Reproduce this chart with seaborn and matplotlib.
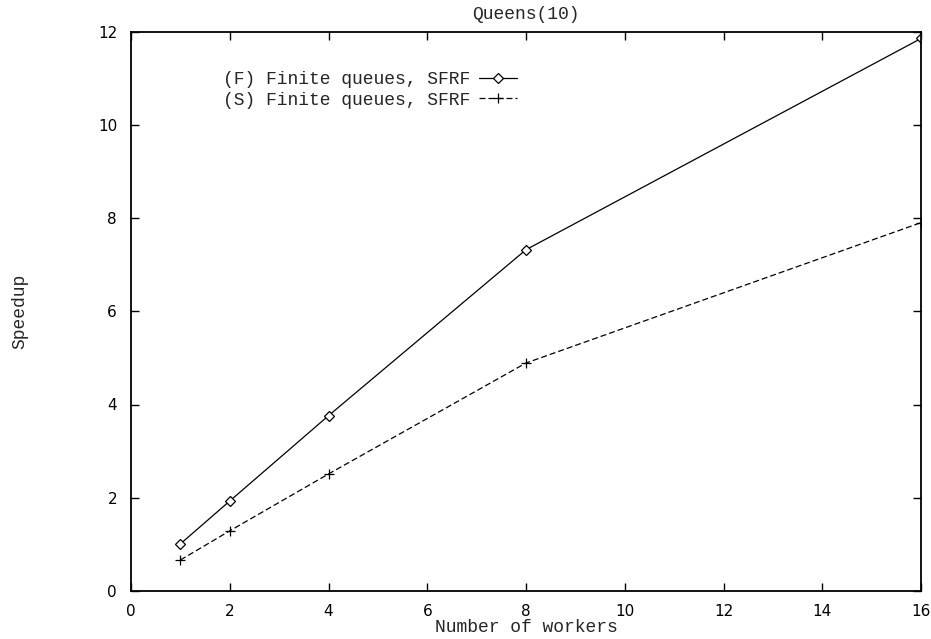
import matplotlib
matplotlib.use("Agg")
import matplotlib.pyplot as plt
import seaborn as sns
import pandas as pd

workers = [1, 2, 4, 8, 16]
speedup_f = [1.01, 1.93, 3.76, 7.32, 11.85]
speedup_s = [0.665, 1.29, 2.51, 4.89, 7.90]
label_f = "(F) Finite queues, SFRF"
label_s = "(S) Finite queues, SFRF"

df_f = pd.DataFrame({"workers": workers, "speedup": speedup_f})
df_s = pd.DataFrame({"workers": workers, "speedup": speedup_s})

sns.set_style("ticks")
plt.rcParams["font.family"] = ["DejaVu Sans"]
mono = "Liberation Mono"
mono_size = 13

fig = plt.figure(figsize=(9.31, 6.39), dpi=100)
ax = fig.add_axes([131/931, 1-591/639, 790/931, 559.5/639])

sns.lineplot(data=df_f, x="workers", y="speedup", color="black", linewidth=0.9,
             marker="D", markersize=5.2, markerfacecolor="white",
             markeredgecolor="black", markeredgewidth=0.9, label=label_f, ax=ax)
sns.lineplot(data=df_s, x="workers", y="speedup", color="black", linewidth=0.9,
             linestyle=(0, (4.8, 2.4)), marker="+", markersize=6.5,
             markeredgecolor="black", markeredgewidth=0.9, label=label_s, ax=ax)

ax.set_xlim(0, 16)
ax.set_ylim(0, 12)
ax.set_xticks(range(0, 17, 2))
ax.set_yticks(range(0, 13, 2))
ax.minorticks_off()
ax.tick_params(direction="in", length=5.5, width=1, top=True, right=True,
               labelsize=11, colors="black")
ax.tick_params(axis="x", pad=9.5)
ax.tick_params(axis="y", pad=10)
for s in ax.spines.values():
    s.set_linewidth(1.3)
    s.set_color("black")

ax.set_title("Queens(10)", fontfamily=mono, fontsize=mono_size, pad=9)
ax.set_xlabel("Number of workers", fontfamily=mono, fontsize=mono_size, labelpad=0)
ax.set_ylabel("Speedup", fontfamily=mono, fontsize=mono_size)
ax.yaxis.set_label_coords((28 - 131) / 790, 0.5)

leg = ax.legend(loc="upper left", bbox_to_anchor=((223 - 131) / 790, (591 - 71) / 559.5),
                frameon=False, markerfirst=False, handlelength=2.1,
                handletextpad=0.5, labelspacing=0.2, borderpad=0, borderaxespad=0,
                prop={"family": mono, "size": mono_size})

fig.savefig("out.png", dpi=100)
